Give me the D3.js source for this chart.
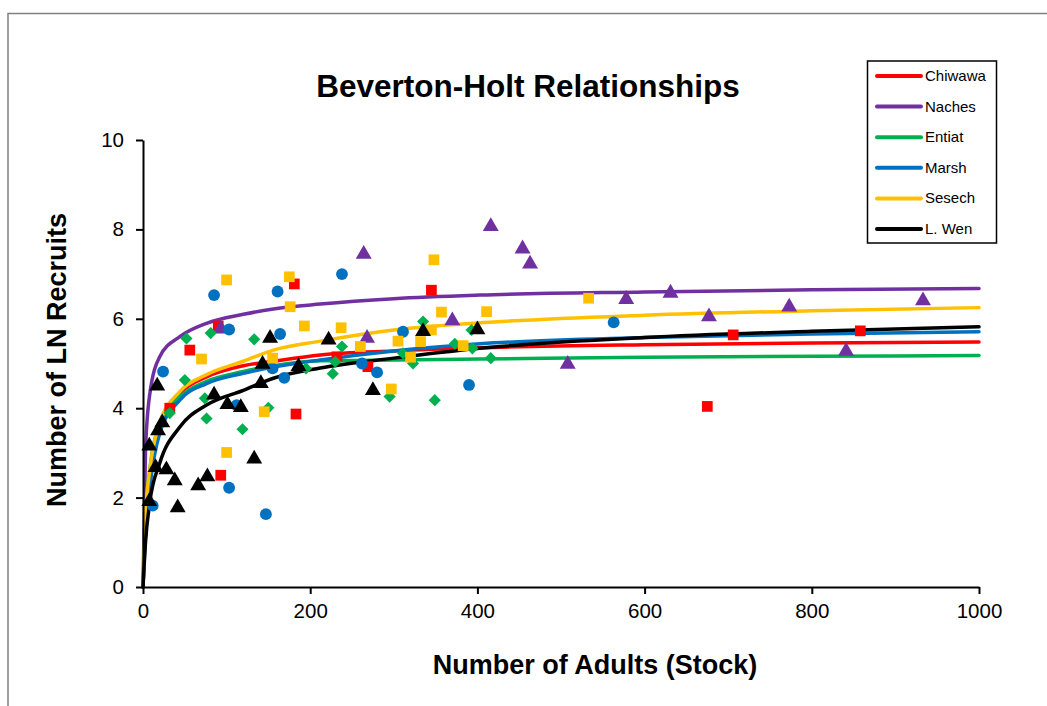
<!DOCTYPE html>
<html><head><meta charset="utf-8">
<script src="https://cdn.jsdelivr.net/npm/d3@7"></script>
<style>body{margin:0;background:#fff}svg{display:block}text{font-family:"Liberation Sans",Arial,sans-serif}</style>
</head><body>
<svg id="c" width="1047" height="706"></svg>
<script>
const seriesNames = ["Chiwawa","Naches","Entiat","Marsh","Sesech","L. Wen"];
const seriesColors = ["#ff0000","#7030a0","#00b050","#0070c0","#ffc000","#000000"];
const seriesShapes = ["square","triangle","diamond","circle","square","triangle"];

// Observed points [stock, recruits]
const chiwawaPts = [[32,4.0],[56,5.3],[90,5.84],[93,2.5],[181,6.78],[183,3.87],[232,5.15],[269,4.93],[345,6.64],[675,4.04],[706,5.64],[858,5.73]];
const nachesPts = [[93,5.81],[264,7.48],[268,5.6],[370,5.99],[416,8.1],[454,7.6],[463,7.26],[508,5.02],[578,6.47],[631,6.61],[677,6.08],[773,6.3],[841,5.31],[933,6.44]];
const entiatPts = [[32,3.89],[50,4.63],[52,5.56],[74,4.22],[76,3.77],[81,5.68],[119,3.53],[133,5.54],[150,4.01],[195,4.89],[227,4.77],[230,5.04],[238,5.38],[295,4.26],[311,5.23],[323,5.0],[335,5.94],[349,4.18],[373,5.44],[393,5.75],[394,5.34],[416,5.12]];
const marshPts = [[11.6,1.82],[24,4.82],[85,6.53],[103,5.76],[103,2.22],[112,4.07],[147,1.63],[155,4.89],[161,6.61],[164,5.66],[169,4.68],[238,7.0],[262,5.0],[280,4.8],[311,5.71],[390,4.52],[563,5.92]];
const sesechPts = [[70,5.1],[100,6.87],[100,3.01],[145,3.92],[155,5.12],[175,6.94],[176,6.27],[193,5.84],[237,5.8],[260,5.38],[297,4.43],[305,5.5],[320,5.14],[332,5.49],[345,5.75],[348,7.32],[357,6.15],[383,5.4],[411,6.16],[533,6.46]];
const lwenPts = [[7.5,1.95],[7.5,3.19],[15,2.71],[17,4.53],[18,3.53],[23,3.71],[28,2.66],[38,2.41],[41.5,1.81],[66,2.3],[77,2.5],[85,4.33],[101,4.12],[117,4.05],[133,2.9],[141,4.59],[143,5.02],[152,5.6],[186,4.97],[222,5.56],[275,4.43],[335,5.75],[400,5.79]];

// Fitted Beverton-Holt curves at these stock values
const curveStock = [0,3,8,20,44,76,120,156,212,300,403,600,800,1000];
const chiwawaCurve = [0,1.5,2.5,3.67,4.33,4.7,4.95,5.05,5.19,5.28,5.35,5.42,5.46,5.48];
const nachesCurve  = [0,3.05,4.3,5.15,5.6,5.9,6.1,6.22,6.33,6.45,6.53,6.6,6.65,6.68];
const entiatCurve  = [0,1.6,2.6,3.64,4.25,4.6,4.82,4.95,5.06,5.08,5.1,5.14,5.16,5.18];
const marshCurve   = [0,1.2,2.2,3.44,4.18,4.55,4.78,4.92,5.08,5.28,5.44,5.58,5.66,5.71];
const sesechCurve  = [0,1.6,2.6,3.67,4.37,4.75,5.05,5.3,5.5,5.75,5.91,6.08,6.18,6.25];
const lwenCurve    = [0,1.0,1.88,2.77,3.58,4.07,4.4,4.67,4.9,5.12,5.34,5.58,5.72,5.82];

const xTicks = [0,200,400,600,800,1000];
const yTicks = [0,2,4,6,8,10];

const allPts = [chiwawaPts,nachesPts,entiatPts,marshPts,sesechPts,lwenPts];
const allCurves = [chiwawaCurve,nachesCurve,entiatCurve,marshCurve,sesechCurve,lwenCurve];

const svg = d3.select("#c");
svg.append("rect").attr("x",8).attr("y",13.5).attr("width",1100).attr("height",800)
  .attr("fill","none").attr("stroke","#7f7f7f").attr("stroke-width",1.5);

const x = d3.scaleLinear().domain([0,1000]).range([143,979]);
const y = d3.scaleLinear().domain([0,10]).range([587,140]);

// Curves
const line = d3.line().x((d,i)=>x(curveStock[i])).y(d=>y(d)).curve(d3.curveMonotoneX);
allCurves.forEach((c,k)=>{
  svg.append("path").attr("d",line(c)).attr("fill","none")
    .attr("stroke",seriesColors[k]).attr("stroke-width",3.5).attr("stroke-linecap","round");
});

// Points
const symType = {square:d3.symbolSquare, triangle:d3.symbolTriangle, diamond:d3.symbolSquare, circle:d3.symbolCircle};
const symSize = {square:115, triangle:110, diamond:74, circle:110};
allPts.forEach((pts,k)=>{
  const sh = seriesShapes[k];
  const sym = d3.symbol().type(symType[sh]).size(symSize[sh]);
  svg.append("g").selectAll("path").data(pts).join("path")
    .attr("d",sym)
    .attr("transform",d=>`translate(${x(d[0])},${y(d[1]) + (sh==="triangle"?1.5:0)})` + (sh==="diamond"?" rotate(45)":""))
    .attr("fill",seriesColors[k]);
});

// Axes
const xAxis = svg.append("g").attr("transform","translate(0,587)")
  .call(d3.axisBottom(x).tickValues(xTicks).tickFormat(d3.format("d")).tickSize(7).tickSizeOuter(0).tickPadding(9));
const yAxis = svg.append("g").attr("transform","translate(143,0)")
  .call(d3.axisLeft(y).tickValues(yTicks).tickFormat(d3.format("d")).tickSize(7).tickSizeOuter(0).tickPadding(12));
[xAxis,yAxis].forEach(a=>{
  a.select(".domain").attr("stroke","#000").attr("stroke-width",2);
  a.selectAll(".tick line").attr("stroke","#000").attr("stroke-width",2);
  a.selectAll(".tick text").attr("font-size",20.5).attr("fill","#000")
    .attr("font-family","'Liberation Sans',Arial,sans-serif");
});

// Titles
svg.append("text").attr("x",528).attr("y",97).attr("text-anchor","middle")
  .attr("font-size",31.5).attr("font-weight","bold").text("Beverton-Holt Relationships");
svg.append("text").attr("x",595).attr("y",674).attr("text-anchor","middle")
  .attr("font-size",27).attr("font-weight","bold").text("Number of Adults (Stock)");
svg.append("text").attr("transform","translate(66,360) rotate(-90)").attr("text-anchor","middle")
  .attr("font-size",27).attr("font-weight","bold").text("Number of LN Recruits");

// Legend
const lg = svg.append("g");
lg.append("rect").attr("x",867.5).attr("y",61).attr("width",129).attr("height",182)
  .attr("fill","#fff").attr("stroke","#000").attr("stroke-width",1.5);
seriesNames.forEach((n,i)=>{
  const yy = 76 + i*30.6;
  lg.append("line").attr("x1",877).attr("x2",921).attr("y1",yy).attr("y2",yy)
    .attr("stroke",seriesColors[i]).attr("stroke-width",4).attr("stroke-linecap","round");
  lg.append("text").attr("x",925).attr("y",yy+5).attr("font-size",15).text(n);
});
</script>
</body></html>
